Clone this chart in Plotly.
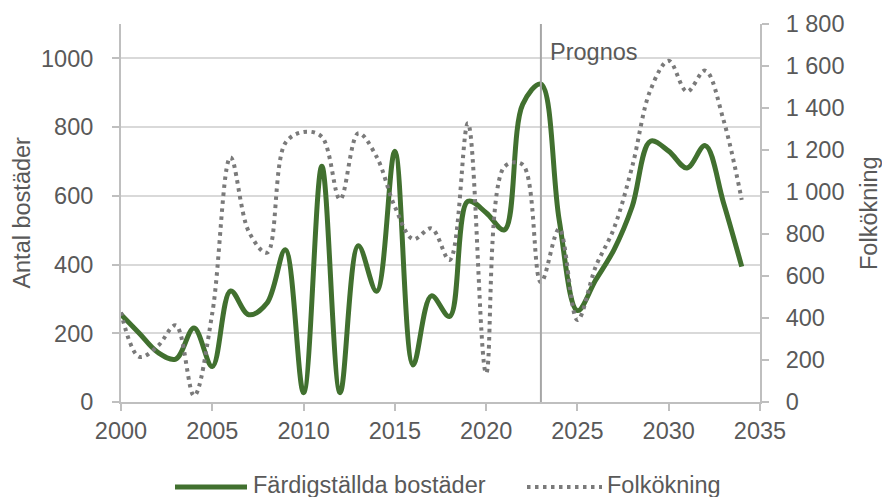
import plotly.graph_objects as go

years = list(range(2000, 2035))
bostader = [255, 200, 145, 125, 215, 103, 323, 254, 288, 443,
            27, 686, 27, 455, 322, 730, 108, 309, 249, 584,
            551, 501, 866, 925, 530, 266, 355, 443, 569, 759,
            730, 681, 746, 580, 394]
folkokning = [427, 215, 265, 365, 30, 423, 1165, 811, 711, 1233,
              1286, 1263, 965, 1280, 1168, 930, 775, 827, 676, 1327,
              137, 1120, 1130, 570, 825, 390, 644, 827, 1121, 1486,
              1625, 1478, 1578, 1343, 962]

left_ticks = [0, 200, 400, 600, 800, 1000]
right_ticks = [0, 200, 400, 600, 800, 1000, 1200, 1400, 1600, 1800]
right_labels = ["0", "200", "400", "600", "800", "1 000", "1 200", "1 400", "1 600", "1 800"]
x_ticks = [2000, 2005, 2010, 2015, 2020, 2025, 2030, 2035]
prognos_year = 2023
series_names = ["Färdigställda bostäder", "Folkökning"]

FONT = "Liberation Sans, Arial, sans-serif"
FS = 23.5
TXT = "#595959"
AX = "#bfbfbf"
GREEN = "#41702f"
GREY = "#7a7a7a"
DOT = "3.5px,4.5px"

fig = go.Figure()
fig.add_trace(go.Scatter(
    x=years, y=bostader, name=series_names[0], mode="lines",
    line=dict(color=GREEN, width=5, shape="spline", smoothing=1.0),
    yaxis="y", showlegend=False))
fig.add_trace(go.Scatter(
    x=years, y=folkokning, name=series_names[1], mode="lines",
    line=dict(color=GREY, width=4, shape="spline", smoothing=1.0, dash=DOT),
    yaxis="y2", showlegend=False))

fig.add_shape(type="line", xref="x", yref="paper", x0=prognos_year, x1=prognos_year,
              y0=0, y1=1, line=dict(color="#a6a6a6", width=2))

fig.add_annotation(text="Prognos", xref="x", yref="paper", x=prognos_year, y=0.926,
                   xanchor="left", yanchor="middle", xshift=7, showarrow=False,
                   font=dict(family=FONT, size=FS, color=TXT))
fig.add_annotation(text="Antal bostäder", xref="paper", yref="paper", x=(22 - 121) / 639, y=0.501,
                   textangle=-90, showarrow=False, xanchor="center", yanchor="middle",
                   font=dict(family=FONT, size=FS, color=TXT))
fig.add_annotation(text="Folkökning", xref="paper", yref="paper", x=(869 - 121) / 639, y=0.5,
                   textangle=-90, showarrow=False, xanchor="center", yanchor="middle",
                   font=dict(family=FONT, size=FS, color=TXT))

# legend (drawn manually so that the line samples have the reference length)
def px_x(p):
    return (p - 121) / 639

def px_y(p):
    return (402 - p) / 378

ly = px_y(487)
fig.add_shape(type="line", xref="paper", yref="paper", x0=px_x(175), x1=px_x(247),
              y0=ly, y1=ly, line=dict(color=GREEN, width=5))
fig.add_annotation(text=series_names[0], xref="paper", yref="paper", x=px_x(251), y=px_y(485),
                   xanchor="left", yanchor="middle", showarrow=False,
                   font=dict(family=FONT, size=FS, color=TXT))
fig.add_shape(type="line", xref="paper", yref="paper", x0=px_x(527), x1=px_x(602),
              y0=ly, y1=ly, line=dict(color=GREY, width=4, dash=DOT))
fig.add_annotation(text=series_names[1], xref="paper", yref="paper", x=px_x(605), y=px_y(485),
                   xanchor="left", yanchor="middle", showarrow=False,
                   font=dict(family=FONT, size=FS, color=TXT))

fig.update_layout(
    width=882, height=497,
    margin=dict(l=121, r=122, t=24, b=95, autoexpand=False),
    paper_bgcolor="white", plot_bgcolor="white",
    font=dict(family=FONT, size=FS, color=TXT),
    showlegend=False,
    xaxis=dict(range=[2000, 2035], tickvals=x_ticks, showgrid=False,
               showline=True, linecolor=AX, linewidth=2, ticks="outside",
               tickcolor=AX, ticklen=7, tickwidth=2, zeroline=False, automargin=False,
               tickfont=dict(family=FONT, size=FS, color=TXT)),
    yaxis=dict(range=[0, 1100], tickvals=left_ticks, showgrid=True,
               gridcolor="#d9d9d9", gridwidth=2, showline=True, linecolor=AX,
               linewidth=2, ticks="outside", tickcolor=AX, ticklen=7, tickwidth=2,
               zeroline=False, ticklabelstandoff=14, automargin=False,
               tickfont=dict(family=FONT, size=FS, color=TXT)),
    yaxis2=dict(range=[0, 1800], tickvals=right_ticks, ticktext=right_labels,
                overlaying="y", side="right", showgrid=False, showline=True,
                linecolor=AX, linewidth=2, ticks="outside", tickcolor=AX,
                ticklen=7, tickwidth=2, zeroline=False, ticklabelstandoff=12,
                automargin=False,
                tickfont=dict(family=FONT, size=FS, color=TXT)),
)

fig.write_html("out.html", config={"displayModeBar": False},
               post_script="document.body.style.margin='0';document.body.style.padding='0';document.body.style.overflow='hidden';")
